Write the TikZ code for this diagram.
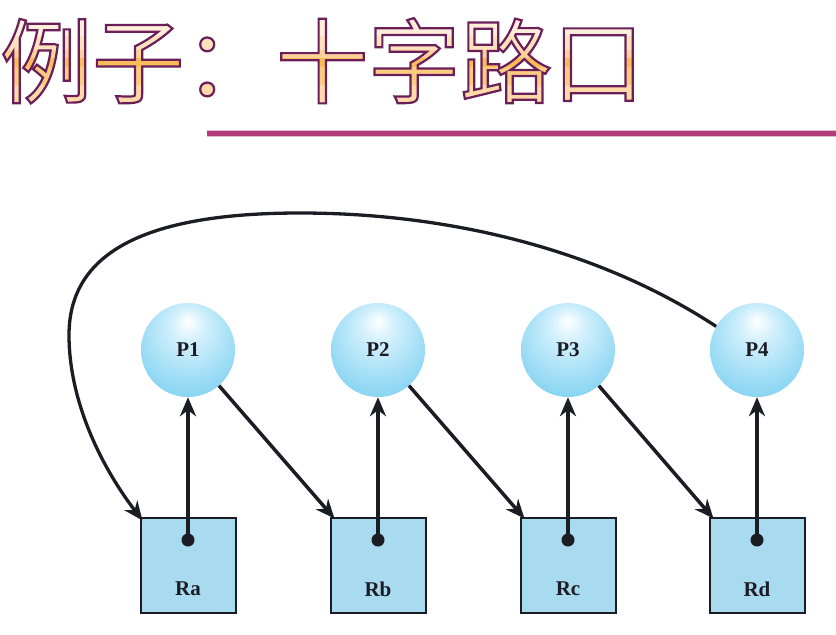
\documentclass[tikz,border=0pt]{standalone}
\usepackage{fontspec}
\setmainfont{Liberation Serif}
\newfontfamily\cjk{Noto Sans CJK SC}
\usetikzlibrary{arrows.meta}
\definecolor{sphlight}{RGB}{210,240,252}
\definecolor{sphmid}{RGB}{140,214,243}
\definecolor{sphedge}{RGB}{85,188,234}
\definecolor{boxfill}{RGB}{168,218,240}
\definecolor{inkc}{RGB}{28,28,36}
\definecolor{barcol}{RGB}{176,60,122}
\definecolor{titleline}{RGB}{106,30,90}
\definecolor{tg1}{HTML}{FFEFDA}
\definecolor{tg2}{HTML}{FEE2BE}
\definecolor{tg3}{HTML}{FCD29A}
\definecolor{tg4}{HTML}{F8BC5A}
\definecolor{tg5}{HTML}{FBCB80}
\definecolor{tg6}{HTML}{FDDAA8}
\newcommand{\strokedtext}[1]{\special{pdf:literal direct 1 Tr 2.2 w 0.416 0.118 0.353 RG}#1\special{pdf:literal direct 0 Tr}}
\pgfdeclareradialshading{sphere}{\pgfpoint{0bp}{16bp}}{color(0bp)=(white); color(9bp)=(sphlight); color(30bp)=(sphmid); color(50bp)=(sphedge)}
\tikzset{
  proc/.style={circle, minimum size=94pt, inner sep=0pt, shading=sphere, font=\bfseries\fontsize{21}{21}\selectfont, text=inkc},
  res/.style={rectangle, minimum size=95pt, inner sep=0pt, fill=boxfill, draw=inkc, line width=2pt},
  reslabel/.style={font=\bfseries\fontsize{21}{21}\selectfont, text=inkc, inner sep=0pt},
  dotn/.style={circle, fill=inkc, minimum size=13pt, inner sep=0pt},
  arr/.style={draw=inkc, line width=4pt, -{Stealth[length=19pt, width=16pt, inset=6pt]}},
  titletxt/.style={anchor=base west, inner sep=0pt, font=\cjk\fontsize{92}{92}\selectfont}
}
\begin{document}
\begin{tikzpicture}[x=1pt, y=-1pt]
\useasboundingbox (0,0) rectangle (836,635);
% title: banded gradient fill, then outline
\foreach \ya/\yb/\c [count=\i] in {0/36/tg1, 36/50/tg2, 50/58/tg3, 58/67/tg4, 67/85/tg5, 85/120/tg6}{
  \begin{scope}
    \clip (0,\ya) rectangle (700,\yb);
    \node[titletxt, text=\c] (tfill\i) at (0, 96) {例子：十字路口};
  \end{scope}
}
\node[titletxt, text=titleline] (title) at (0, 96) {\strokedtext{例子：十字路口}};
\draw[line width=7pt, barcol!35] (207,133) -- (836,133);
\draw[line width=5pt, barcol] (207,133) -- (836,133);
% processes
\node[proc] (P1) at (188,350) {P1};
\node[proc] (P2) at (378,350) {P2};
\node[proc] (P3) at (568,350) {P3};
\node[proc] (P4) at (757,350) {P4};
% resources
\foreach \n/\x in {a/188, b/378, c/568, d/757}{
  \node[res] (R\n) at (\x,565) {};
  \node[reslabel] (L\n) at (\x,589) {R\n};
  \node[dotn] (d\n) at (\x,540) {};
}
% requests / holds
\draw[arr] (da.center) -- (P1);
\draw[arr] (db.center) -- (P2);
\draw[arr] (dc.center) -- (P3);
\draw[arr] (dd.center) -- (P4);
\draw[arr, line width=3.5pt] (P1) -- ([xshift=5pt,yshift=-2pt]Rb.north west);
\draw[arr, line width=3.5pt] (P2) -- ([xshift=5pt,yshift=-2pt]Rc.north west);
\draw[arr, line width=3.5pt] (P3) -- ([xshift=5pt,yshift=-2pt]Rd.north west);
\draw[arr, line width=3.3pt] (P4.150) .. controls (600,250) and (450,213) .. (300,213)
   .. controls (150,213) and (69,250) .. (69,335)
   .. controls (69,400) and (100,465) .. ([xshift=3pt,yshift=-4pt]Ra.north west);
\end{tikzpicture}
\end{document}
